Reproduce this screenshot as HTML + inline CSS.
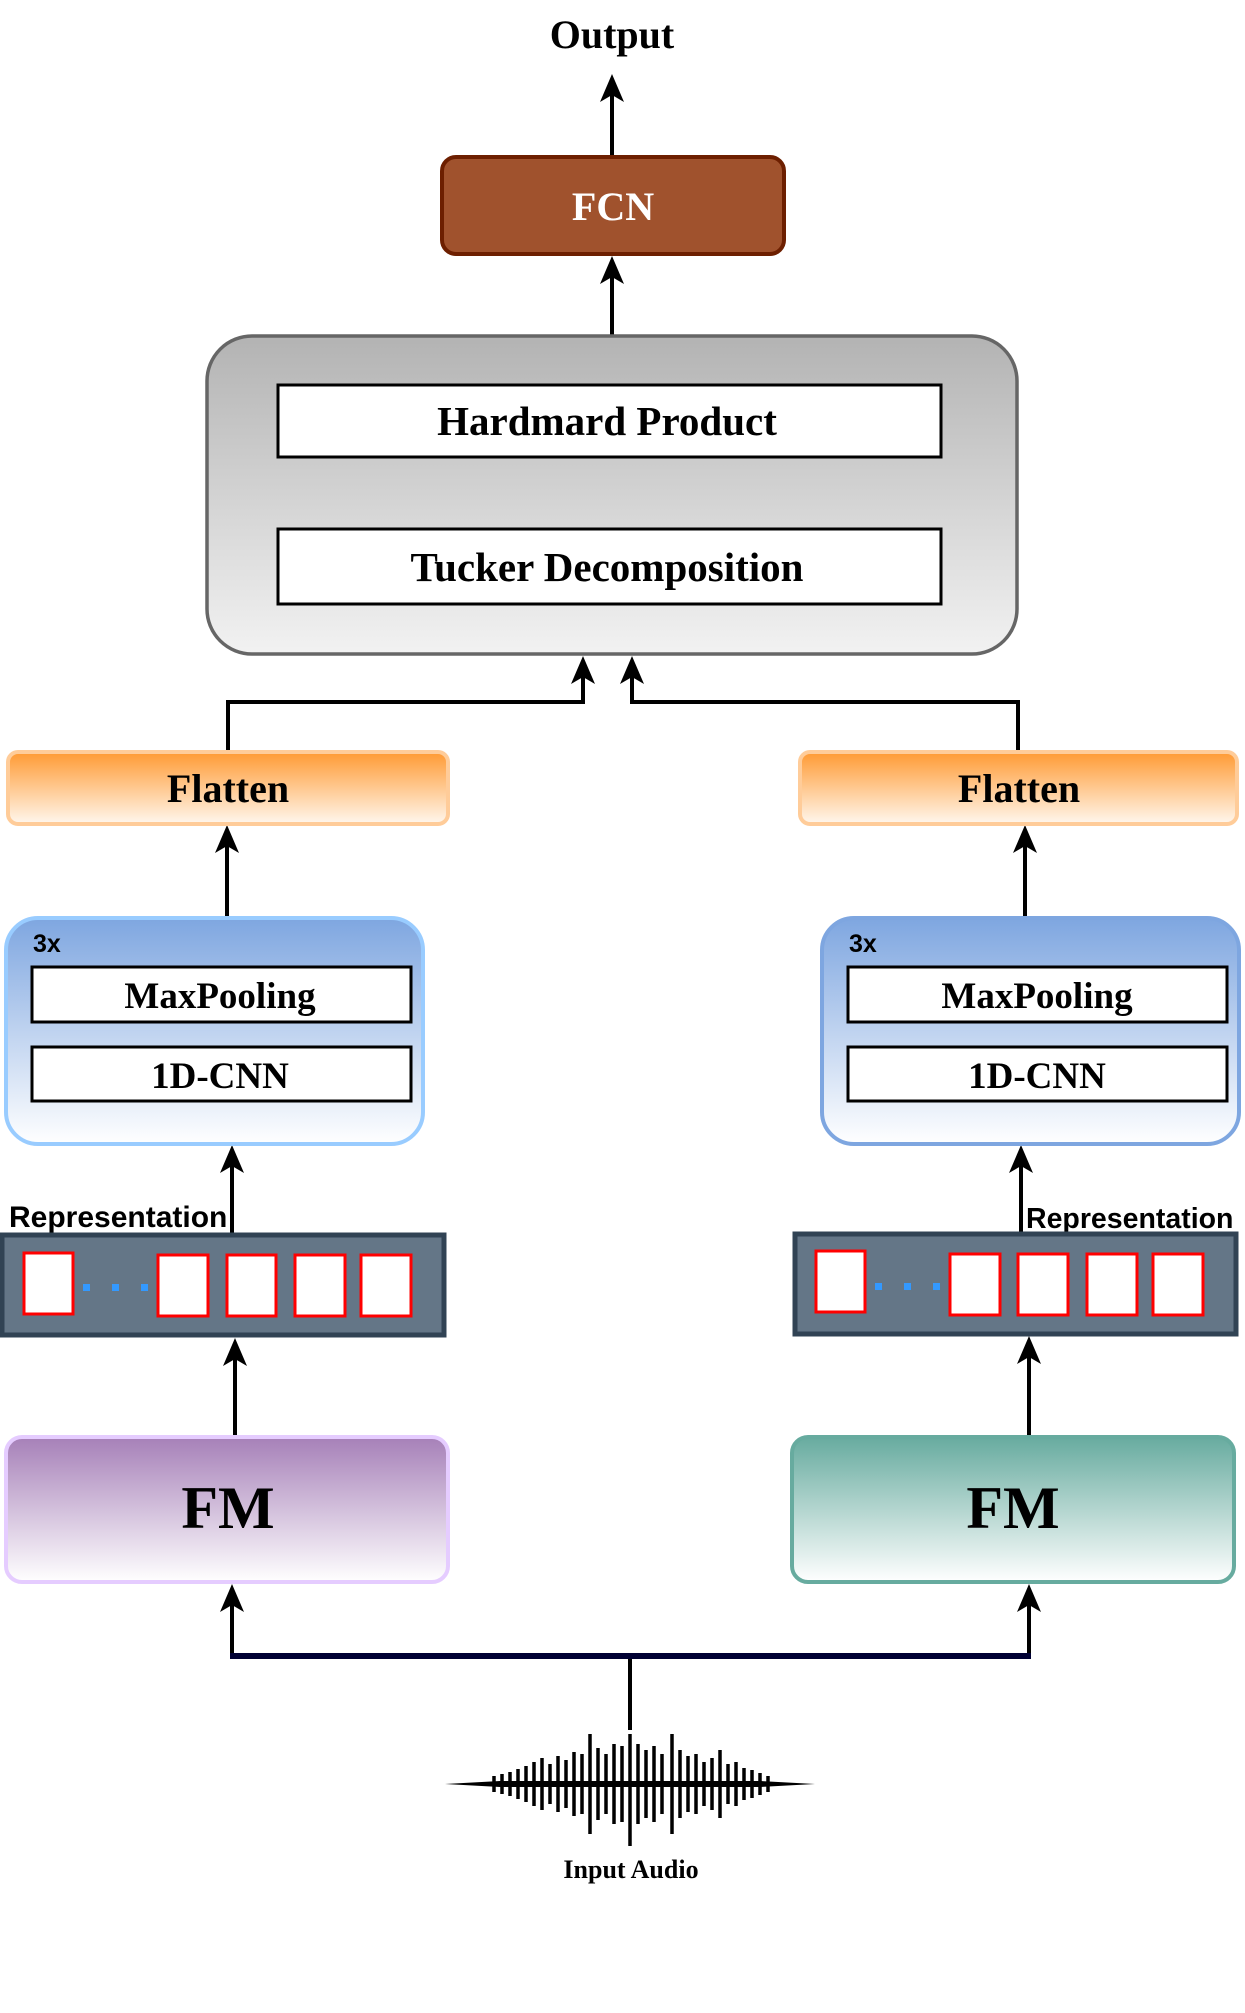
<!DOCTYPE html>
<html><head><meta charset="utf-8"><style>
html,body{margin:0;padding:0;background:#fff;}
svg{display:block}
.s{font-family:"Liberation Serif",serif;font-weight:bold;}
.a{font-family:"Liberation Sans",sans-serif;font-weight:bold;}
</style></head><body>
<svg width="1245" height="2013" viewBox="0 0 1245 2013" xmlns="http://www.w3.org/2000/svg">
<defs>
<linearGradient id="gg" x1="0" y1="0" x2="0" y2="1"><stop offset="0" stop-color="#b3b3b3"/><stop offset="1" stop-color="#f2f2f2"/></linearGradient>
<linearGradient id="go" x1="0" y1="0" x2="0" y2="1"><stop offset="0" stop-color="#ff9a33"/><stop offset="1" stop-color="#fff7ee"/></linearGradient>
<linearGradient id="gb" x1="0" y1="0" x2="0" y2="1"><stop offset="0" stop-color="#7ea6e0"/><stop offset="1" stop-color="#ffffff"/></linearGradient>
<linearGradient id="gp" x1="0" y1="0" x2="0" y2="1"><stop offset="0" stop-color="#a680b8"/><stop offset="1" stop-color="#ffffff"/></linearGradient>
<linearGradient id="gt" x1="0" y1="0" x2="0" y2="1"><stop offset="0" stop-color="#67ab9f"/><stop offset="1" stop-color="#ffffff"/></linearGradient>
</defs>

<text x="612" y="48" text-anchor="middle" class="s" font-size="40">Output</text>

<g stroke="#000" stroke-width="4" fill="none">
<line x1="612" y1="156" x2="612" y2="90"/>
<line x1="612" y1="335" x2="612" y2="270"/>
<line x1="607" y1="528" x2="607" y2="470"/>
<polyline points="228,750 228,702 583,702 583,670"/>
<polyline points="1018,750 1018,702 632,702 632,670"/>
<line x1="227" y1="916" x2="227" y2="840"/>
<line x1="1025" y1="916" x2="1025" y2="840"/>
<line x1="232" y1="1233" x2="232" y2="1160"/>
<line x1="1021" y1="1232" x2="1021" y2="1160"/>
<line x1="235" y1="1435" x2="235" y2="1352"/>
<line x1="1029" y1="1435" x2="1029" y2="1350"/>
<line x1="232" y1="1656" x2="232" y2="1598"/>
<line x1="1029" y1="1656" x2="1029" y2="1598"/>
<line x1="630" y1="1656" x2="630" y2="1730"/>
</g>
<line x1="230" y1="1656" x2="1031" y2="1656" stroke="#000033" stroke-width="6"/>

<g fill="#000">
<path d="M612,74 l-12,28 l12,-7 l12,7z"/>
<path d="M612,256 l-12,28 l12,-7 l12,7z"/>
<path d="M607,458 l-12,28 l12,-7 l12,7z"/>
<path d="M583,656 l-12,28 l12,-7 l12,7z"/>
<path d="M632,656 l-12,28 l12,-7 l12,7z"/>
<path d="M227,825 l-12,28 l12,-7 l12,7z"/>
<path d="M1025,825 l-12,28 l12,-7 l12,7z"/>
<path d="M232,1145 l-12,28 l12,-7 l12,7z"/>
<path d="M1021,1145 l-12,28 l12,-7 l12,7z"/>
<path d="M235,1338 l-12,28 l12,-7 l12,7z"/>
<path d="M1029,1336 l-12,28 l12,-7 l12,7z"/>
<path d="M232,1584 l-12,28 l12,-7 l12,7z"/>
<path d="M1029,1584 l-12,28 l12,-7 l12,7z"/>
</g>

<rect x="442" y="157" width="342" height="97" rx="14" fill="#a0522d" stroke="#6d1f00" stroke-width="4"/>
<text x="613" y="220" text-anchor="middle" class="s" font-size="40" fill="#fff">FCN</text>

<rect x="207" y="336" width="810" height="318" rx="45" fill="url(#gg)" stroke="#666" stroke-width="3.5"/>
<rect x="278" y="385" width="663" height="72" fill="#fff" stroke="#000" stroke-width="3"/>
<text x="607" y="435" text-anchor="middle" class="s" font-size="41">Hardmard Product</text>
<rect x="278" y="529" width="663" height="75" fill="#fff" stroke="#000" stroke-width="3"/>
<text x="607" y="581" text-anchor="middle" class="s" font-size="41">Tucker Decomposition</text>

<rect x="8" y="752" width="440" height="72" rx="10" fill="url(#go)" stroke="#ffcc99" stroke-width="4"/>
<text x="228" y="802" text-anchor="middle" class="s" font-size="40">Flatten</text>
<rect x="800" y="752" width="437" height="72" rx="10" fill="url(#go)" stroke="#ffcc99" stroke-width="4"/>
<text x="1019" y="802" text-anchor="middle" class="s" font-size="40">Flatten</text>

<rect x="6" y="918" width="417" height="226" rx="32" fill="url(#gb)" stroke="#99ccff" stroke-width="4"/>
<text x="33" y="952" class="a" font-size="25">3x</text>
<rect x="32" y="967" width="379" height="55" fill="#fff" stroke="#000" stroke-width="3"/>
<text x="220" y="1008" text-anchor="middle" class="s" font-size="37">MaxPooling</text>
<rect x="32" y="1047" width="379" height="54" fill="#fff" stroke="#000" stroke-width="3"/>
<text x="220" y="1088" text-anchor="middle" class="s" font-size="37">1D-CNN</text>

<rect x="822" y="918" width="417" height="226" rx="32" fill="url(#gb)" stroke="#7ea6e0" stroke-width="4"/>
<text x="849" y="952" class="a" font-size="25">3x</text>
<rect x="848" y="967" width="379" height="55" fill="#fff" stroke="#000" stroke-width="3"/>
<text x="1037" y="1008" text-anchor="middle" class="s" font-size="37">MaxPooling</text>
<rect x="848" y="1047" width="379" height="54" fill="#fff" stroke="#000" stroke-width="3"/>
<text x="1037" y="1088" text-anchor="middle" class="s" font-size="37">1D-CNN</text>

<text x="9" y="1227" class="a" font-size="30">Representation</text>
<rect x="2" y="1235" width="442" height="100" fill="#647687" stroke="#314354" stroke-width="5"/>
<g fill="#fff" stroke="#f00" stroke-width="3">
<rect x="24" y="1253" width="49" height="61"/>
<rect x="158" y="1255" width="50" height="61"/>
<rect x="227" y="1255" width="49" height="61"/>
<rect x="295" y="1255" width="50" height="61"/>
<rect x="361" y="1255" width="50" height="61"/>
</g>
<g fill="#3399ff"><rect x="83" y="1284" width="7" height="7"/><rect x="112" y="1284" width="7" height="7"/><rect x="141" y="1284" width="7" height="7"/></g>

<text x="1026" y="1228" class="a" font-size="28.5">Representation</text>
<rect x="795" y="1234" width="441" height="100" fill="#647687" stroke="#314354" stroke-width="5"/>
<g fill="#fff" stroke="#f00" stroke-width="3">
<rect x="816" y="1251" width="49" height="61"/>
<rect x="950" y="1254" width="50" height="61"/>
<rect x="1018" y="1254" width="50" height="61"/>
<rect x="1087" y="1254" width="50" height="61"/>
<rect x="1153" y="1254" width="50" height="61"/>
</g>
<g fill="#3399ff"><rect x="875" y="1283" width="7" height="7"/><rect x="904" y="1283" width="7" height="7"/><rect x="933" y="1283" width="7" height="7"/></g>

<rect x="6" y="1437" width="442" height="145" rx="16" fill="url(#gp)" stroke="#e5ccff" stroke-width="4"/>
<text x="228" y="1528" text-anchor="middle" class="s" font-size="60">FM</text>
<rect x="792" y="1437" width="442" height="145" rx="16" fill="url(#gt)" stroke="#67ab9f" stroke-width="4"/>
<text x="1013" y="1528" text-anchor="middle" class="s" font-size="60">FM</text>

<polygon points="445,1784 500,1781 760,1781 815,1784 760,1787 500,1787" fill="#000"/>
<g stroke="#000" stroke-width="3.5">
<line x1="494" y1="1776" x2="494" y2="1792"/>
<line x1="502" y1="1774" x2="502" y2="1794"/>
<line x1="510" y1="1772" x2="510" y2="1796"/>
<line x1="518" y1="1769" x2="518" y2="1799"/>
<line x1="526" y1="1766" x2="526" y2="1802"/>
<line x1="534" y1="1762" x2="534" y2="1806"/>
<line x1="542" y1="1758" x2="542" y2="1810"/>
<line x1="550" y1="1764" x2="550" y2="1804"/>
<line x1="558" y1="1756" x2="558" y2="1812"/>
<line x1="566" y1="1760" x2="566" y2="1808"/>
<line x1="574" y1="1752" x2="574" y2="1816"/>
<line x1="582" y1="1754" x2="582" y2="1814"/>
<line x1="590" y1="1734" x2="590" y2="1834"/>
<line x1="598" y1="1748" x2="598" y2="1820"/>
<line x1="606" y1="1754" x2="606" y2="1814"/>
<line x1="614" y1="1744" x2="614" y2="1824"/>
<line x1="622" y1="1746" x2="622" y2="1822"/>
<line x1="630" y1="1734" x2="630" y2="1846"/>
<line x1="638" y1="1744" x2="638" y2="1824"/>
<line x1="646" y1="1750" x2="646" y2="1818"/>
<line x1="654" y1="1746" x2="654" y2="1822"/>
<line x1="662" y1="1754" x2="662" y2="1814"/>
<line x1="672" y1="1734" x2="672" y2="1834"/>
<line x1="680" y1="1750" x2="680" y2="1818"/>
<line x1="688" y1="1756" x2="688" y2="1812"/>
<line x1="696" y1="1754" x2="696" y2="1814"/>
<line x1="704" y1="1762" x2="704" y2="1806"/>
<line x1="712" y1="1758" x2="712" y2="1810"/>
<line x1="720" y1="1750" x2="720" y2="1818"/>
<line x1="728" y1="1764" x2="728" y2="1804"/>
<line x1="736" y1="1762" x2="736" y2="1806"/>
<line x1="744" y1="1768" x2="744" y2="1800"/>
<line x1="752" y1="1770" x2="752" y2="1798"/>
<line x1="760" y1="1773" x2="760" y2="1795"/>
<line x1="768" y1="1776" x2="768" y2="1792"/>
</g>
<text x="631" y="1878" text-anchor="middle" class="s" font-size="26">Input Audio</text>
</svg>
</body></html>
